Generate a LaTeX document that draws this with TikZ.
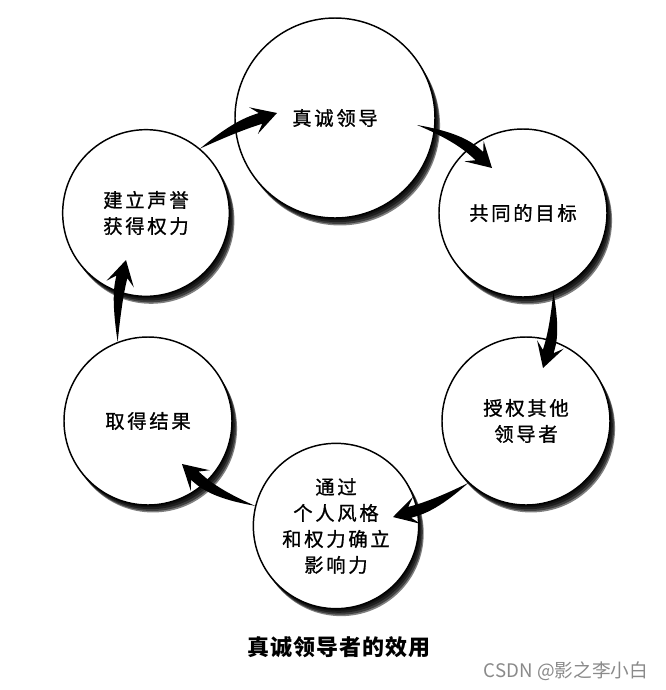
\documentclass[tikz,border=0pt]{standalone}
\usepackage{fontspec}
\usetikzlibrary{calc}
\newfontfamily\cjk[LetterSpace=14, FakeBold=1]{Noto Sans CJK SC}
\newfontfamily\cjkt[LetterSpace=4]{Noto Sans CJK SC}
\newfontfamily\cjkw{Noto Sans CJK SC}
\definecolor{wmgray}{HTML}{8A8A8A}
\tikzset{
  shad/.style 2 args={preaction={fill=black, fill opacity=0.5, transform canvas={shift={(#1,#2)}}}},
  circ/.style={circle, draw, line width=1.1pt, fill=white, minimum size=#1, inner sep=0pt,
    align=center, font=\cjk\fontsize{14.5}{19.5}\selectfont,
    shad={1.1pt}{-1.6pt}, shad={2.1pt}{-3.1pt}, shad={3.1pt}{-4.5pt}, shad={3.8pt}{-5.6pt}},
  title/.style={font=\cjkt\bfseries\fontsize{16.5}{19}\selectfont},
  wmark/.style={font=\cjkw\fontsize{14}{17}\selectfont, text=wmgray},
}
% #1 tail, #2 bend control, #3 tip
\newcommand\taper[3]{%
  \path (#3) coordinate (tip)
        ($(#3)!18.5pt!(#2)$) coordinate (hb)
        ($(#3)!13pt!(#2)$) coordinate (hj);
  \path ($(hj)!4.2pt!90:(tip)$) coordinate (sl)
        ($(hj)!4.2pt!-90:(tip)$) coordinate (sr);
  \path ($(#2)+(sl)-(hj)$) coordinate (kl)
        ($(#2)+(sr)-(hj)$) coordinate (kr);
  \fill (#1) .. controls (kl) and ($(sl)!0.4!(kl)$) .. (sl)
    -- ($(hb)!10.5pt!90:(tip)$) -- (tip) -- ($(hb)!10.5pt!-90:(tip)$)
    -- (sr) .. controls ($(sr)!0.4!(kr)$) and (kr) .. (#1) -- cycle;
}
\begin{document}
\begin{tikzpicture}[x=0.75pt, y=-0.75pt]
  \useasboundingbox (0,0) rectangle (666,690);
  \fill[white] (0,0) rectangle (666,690);
  % circles
  \node[circ=150pt] (c1) at (335,118) {真诚领导};
  \node[circ=126pt] (c2) at (523,213) {共同的目标};
  \node[circ=126pt] (c3) at (526,421) {授权其他\\领导者};
  \node[circ=124pt] (c4) at (336,526) {通过\\个人风格\\和权力确立\\影响力};
  \node[circ=126pt] (c5) at (148,421) {取得结果};
  \node[circ=125pt] (c6) at (146,213) {建立声誉\\获得权力};
  % arrow ends
  \coordinate (t1) at (c6.50);
  \coordinate (h1) at ($(c1)+(-58,-5)$);
  \coordinate (k1) at (234,127);
  \coordinate (t2) at ($(c1)+(82,7)$);
  \coordinate (h2) at ($(c2)+(-31,-45)$);
  \coordinate (k2) at (459,137);
  \coordinate (t3) at (c2.-69);
  \coordinate (h3) at ($(c3)+(17,-53)$);
  \coordinate (k3) at (555,330);
  \coordinate (t4) at (c3.-133);
  \coordinate (h4) at ($(c4)+(57,-9)$);
  \coordinate (k4) at (436,505);
  \coordinate (t5) at (c4.166);
  \coordinate (h5) at ($(c5)+(34,43)$);
  \coordinate (k5) at (215,494);
  \coordinate (t6) at (c5.111);
  \coordinate (h6) at ($(c6)+(-20,47)$);
  \coordinate (k6) at (116.5,299);
  \taper{t1}{k1}{h1}
  \taper{t2}{k2}{h2}
  \taper{t3}{k3}{h3}
  \taper{t4}{k4}{h4}
  \taper{t5}{k5}{h5}
  \taper{t6}{k6}{h6}
  % captions
  \node[title] (ttl) at (339,647) {真诚领导者的效用};
  \node[wmark] (wm) at (566,671) {CSDN @影之李小白};
\end{tikzpicture}
\end{document}
